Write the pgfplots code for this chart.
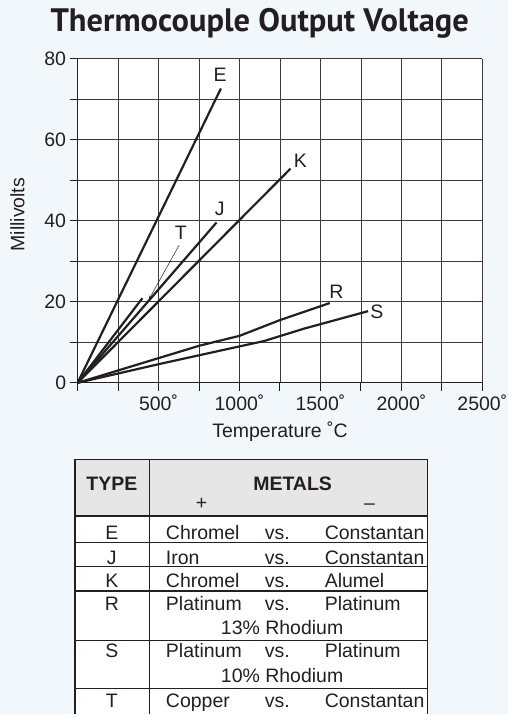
\documentclass[border=0pt]{standalone}
\usepackage{pgfplots}
\pgfplotsset{compat=1.18}
\usepackage{fontspec}
\setmainfont{Liberation Sans}
\newfontfamily\titlefont{PT Sans}
\definecolor{bg}{HTML}{F2F7FB}
\definecolor{ink}{HTML}{231F20}
\definecolor{gridc}{HTML}{3A3A3A}
\definecolor{headc}{HTML}{E6E6E6}
\newcommand{\lbl}{\fontsize{19.5}{21}\selectfont}
\pgfplotsset{curve/.style={color=ink, solid, line width=2.2pt, mark=none}}

\begin{document}
\begin{tikzpicture}[x=1pt,y=1pt]
% page background and title
\fill[bg] (0,0) rectangle (509,715);
\node[anchor=base, font=\titlefont\bfseries\fontsize{32.5}{34}\selectfont, text=ink] at (260,683) {Thermocouple Output Voltage};

\begin{axis}[
    at={(77.7pt,331.7pt)}, anchor=south west,
    width=405.3pt, height=324.3pt, scale only axis,
    xmin=0, xmax=2500, ymin=0, ymax=80,
    axis lines=left,
    axis line style={-, line width=1.3pt, ink},
    axis background/.style={fill=white},
    xtick={500,1000,...,2500},
    minor xtick={0,250,750,1250,1750,2250},
    ytick={0,20,40,60,80},
    minor ytick={10,30,50,70},
    tick align=outside,
    major tick length=8pt, minor tick length=8pt,
    tick style={line width=1pt, ink},
    grid=both,
    major grid style={line width=0.9pt, gridc},
    minor grid style={line width=0.9pt, gridc},
    /pgf/number format/1000 sep={},
    /pgf/number format/assume math mode=true,
    xticklabel={\pgfmathprintnumber{\tick}˚},
    tick label style={font=\lbl, text=ink},
    xlabel={Temperature ˚C},
    ylabel={Millivolts},
    label style={font=\lbl, text=ink},
    xlabel style={at={(axis description cs:0.5,-0.1687)}, anchor=base},
    ylabel style={at={(axis description cs:-0.1486,0.519)}, anchor=center},
    clip=false,
]
% E
\addplot[curve] coordinates {(0,0) (885,72.7)};
% J
\addplot[curve] coordinates {(0,0) (858,39.6)};
% K
\addplot[curve] coordinates {(0,0) (1315,52.9)};
% T
\addplot[curve] coordinates {(0,0) (400,20.9)};
% R
\addplot[curve] coordinates {(0,0) (500,6.1) (755,9.2) (1000,11.6) (1250,15.5) (1557,19.7)};
% S
\addplot[curve] coordinates {(0,0) (500,4.6) (1000,9.0) (1150,10.3) (1400,13.4) (1794,17.7)};

\node[font=\lbl, text=ink] at (axis cs:880,76) {E};
\node[font=\lbl, text=ink] at (axis cs:878,42.9) {J};
\node[font=\lbl, text=ink] at (axis cs:1376,54.8) {K};
\node[font=\lbl, text=ink] at (axis cs:1599,22.5) {R};
\node[font=\lbl, text=ink] at (axis cs:1849,17.6) {S};
\node[font=\lbl, text=ink] at (axis cs:638,37) {T};
\draw[line width=0.5pt, ink, -stealth] (axis cs:627,34) -- (axis cs:442,20.7);
\end{axis}

% table of thermocouple metals
\fill[headc] (75,255) rectangle (428,198.3);
\fill[white] (75,198.3) rectangle (428,0);
\draw[line width=1.8pt, ink] (75,0) -- (75,255) -- (428,255) -- (428,0);
\draw[line width=1.2pt, ink] (149.3,255) -- (149.3,0);
\foreach \yy in {198.3,171.7,147.7,123.3,73.3,25.7}
  \draw[line width=1.2pt, ink] (75,\yy) -- (428,\yy);

\begin{scope}[every node/.style={font=\lbl, text=ink, inner sep=0pt}]
\node[anchor=base, font=\lbl\bfseries] at (112,224.3) {TYPE};
\node[anchor=base, font=\lbl\bfseries] at (293,224.3) {METALS};
\node at (201.7,210) {+};
\node at (370,208) {–};
% rows
\node[anchor=base] at (112,175) {E};
\node[anchor=base west] at (166,175) {Chromel};
\node[anchor=base west] at (265,175) {vs.};
\node[anchor=base west] at (325,175) {Constantan};
\node[anchor=base] at (112,150) {J};
\node[anchor=base west] at (166,150) {Iron};
\node[anchor=base west] at (265,150) {vs.};
\node[anchor=base west] at (325,150) {Constantan};
\node[anchor=base] at (112,126.7) {K};
\node[anchor=base west] at (166,126.7) {Chromel};
\node[anchor=base west] at (265,126.7) {vs.};
\node[anchor=base west] at (325,126.7) {Alumel};
\node[anchor=base] at (112,103.3) {R};
\node[anchor=base west] at (166,103.3) {Platinum};
\node[anchor=base west] at (265,103.3) {vs.};
\node[anchor=base west] at (325,103.3) {Platinum};
\node[anchor=base] at (282.5,80) {13\% Rhodium};
\node[anchor=base] at (112,56.7) {S};
\node[anchor=base west] at (166,56.7) {Platinum};
\node[anchor=base west] at (265,56.7) {vs.};
\node[anchor=base west] at (325,56.7) {Platinum};
\node[anchor=base] at (282.5,31.7) {10\% Rhodium};
\node[anchor=base] at (112,6.7) {T};
\node[anchor=base west] at (166,6.7) {Copper};
\node[anchor=base west] at (265,6.7) {vs.};
\node[anchor=base west] at (325,6.7) {Constantan};
\end{scope}
\useasboundingbox (0,0) rectangle (509,715);
\end{tikzpicture}
\end{document}
